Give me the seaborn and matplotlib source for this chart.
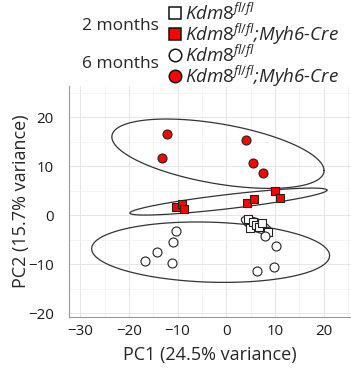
import numpy as np
import pandas as pd
import matplotlib.pyplot as plt
import seaborn as sns
from matplotlib.lines import Line2D
from matplotlib.ticker import MultipleLocator

# PCA scores
pc1_2m_ctrl = [4.4, 4.9, 5.5, 6.1, 6.7, 7.3, 8.6]
pc2_2m_ctrl = [-0.9, -2.7, -1.4, -2.0, -2.4, -1.7, -3.4]
pc1_2m_cre = [-10.3, -9.1, -8.6, 4.3, 5.7, 10.0, 11.0]
pc2_2m_cre = [1.7, 2.2, 1.2, 2.4, 3.3, 5.0, 3.5]
pc1_6m_ctrl = [-10.3, -10.9, -14.2, -16.7, -11.1, 7.9, 10.2, 6.4, 9.7]
pc2_6m_ctrl = [-3.3, -5.5, -7.6, -9.3, -9.7, -4.3, -6.4, -11.4, -10.6]
pc1_6m_cre = [-12.2, -13.3, 4.0, 5.4, 7.5]
pc2_6m_cre = [16.5, 11.6, 15.3, 10.6, 8.6]

groups = ["2m_ctrl", "2m_cre", "6m_ctrl", "6m_cre"]
ages = ["2 months", "2 months", "6 months", "6 months"]
genotypes = ["ctrl", "cre", "ctrl", "cre"]

df = pd.concat([
    pd.DataFrame({"PC1": pc1_2m_ctrl, "PC2": pc2_2m_ctrl, "group": "2m_ctrl"}),
    pd.DataFrame({"PC1": pc1_2m_cre, "PC2": pc2_2m_cre, "group": "2m_cre"}),
    pd.DataFrame({"PC1": pc1_6m_ctrl, "PC2": pc2_6m_ctrl, "group": "6m_ctrl"}),
    pd.DataFrame({"PC1": pc1_6m_cre, "PC2": pc2_6m_cre, "group": "6m_cre"}),
], ignore_index=True)


def ellipse_pts(x, level=0.90, segments=100):
    # normal-theory ellipse from the sample covariance
    center = x.mean(axis=0)
    cov = np.cov(x, rowvar=False)
    radius = np.sqrt(-2 * np.log(1 - level))  # chi2 quantile, 2 df
    ang = np.linspace(0, 2 * np.pi, segments + 1)
    circ = np.column_stack([np.cos(ang), np.sin(ang)])
    L = np.linalg.cholesky(cov)
    return center + radius * circ @ L.T


sns.set_style("white")
plt.rcParams["font.family"] = ["Open Sans", "DejaVu Sans"]
plt.rcParams["mathtext.fontset"] = "custom"
plt.rcParams["mathtext.it"] = "Open Sans:italic"
plt.rcParams["mathtext.rm"] = "Open Sans"

fig = plt.figure(figsize=(3.51, 3.73), dpi=100)
ax = fig.add_axes([0.1966, 0.150, 0.8034, 0.619])

for g in groups:
    sub = df[df.group == g][["PC1", "PC2"]].to_numpy()
    e = ellipse_pts(sub)
    ax.plot(e[:, 0], e[:, 1], color="#333333", lw=0.9, zorder=2)

marker_map = {"2 months": "s", "6 months": "o"}
for g, age, geno in zip(groups, ages, genotypes):
    sub = df[df.group == g]
    sns.scatterplot(data=sub, x="PC1", y="PC2", ax=ax,
                    marker=marker_map[age],
                    s=42 if age == "6 months" else 32,
                    color="#FF0000" if geno == "cre" else "white",
                    edgecolor="#222222", linewidth=0.8, zorder=3, legend=False)

ax.set_xlim(-32.3, 25.6)
ax.set_ylim(-20.8, 26.3)
ax.xaxis.set_major_locator(MultipleLocator(10))
ax.yaxis.set_major_locator(MultipleLocator(10))
ax.xaxis.set_minor_locator(MultipleLocator(5))
ax.yaxis.set_minor_locator(MultipleLocator(5))
ax.grid(True, which="major", color="#E6E6E6", lw=0.7)
ax.grid(True, which="minor", color="#F2F2F2", lw=0.5)
ax.set_axisbelow(True)
for s in ["top", "right"]:
    ax.spines[s].set_visible(False)
for s in ["left", "bottom"]:
    ax.spines[s].set_color("#999999")
    ax.spines[s].set_linewidth(0.8)
ax.tick_params(which="major", length=3, width=0.7, color="#888888", labelsize=10.8, labelcolor="#1a1a1a")
ax.tick_params(axis="y", pad=8)
ax.tick_params(axis="x", pad=2)
ax.tick_params(which="minor", length=0)
ax.set_xlabel("PC1 (24.5% variance)", fontsize=13, va="center")
ax.set_ylabel("PC2 (15.7% variance)", fontsize=13, va="center")
ax.xaxis.set_label_coords(0.5, -0.164)
ax.yaxis.set_label_coords(-0.17, 0.5)

ctrl_lab = r"$\mathit{Kdm8}^{\mathit{fl/fl}}$"
cre_lab = r"$\mathit{Kdm8}^{\mathit{fl/fl}}$;Myh6-Cre"
handles = [
    Line2D([], [], ls="", marker="s", ms=8, mfc="white", mec="#111111", mew=1.1),
    Line2D([], [], ls="", marker="s", ms=8, mfc="#FF0000", mec="#111111", mew=1.1),
    Line2D([], [], ls="", marker="o", ms=9, mfc="white", mec="#111111", mew=1.1),
    Line2D([], [], ls="", marker="o", ms=9, mfc="#FF0000", mec="#111111", mew=1.1),
]
leg = fig.legend(handles, [ctrl_lab, cre_lab, ctrl_lab, cre_lab],
                 loc="upper left", bbox_to_anchor=(0.4786, 0.993), frameon=False,
                 borderpad=0, borderaxespad=0,
                 handlelength=0.8, handletextpad=0.1, labelspacing=-0.12,
                 prop={"size": 13.5, "style": "italic"})
fig.text(0.233, 0.931, "2 months", fontsize=12.5, va="center")
fig.text(0.233, 0.828, "6 months", fontsize=12.5, va="center")

plt.savefig("out.png", dpi=100)
